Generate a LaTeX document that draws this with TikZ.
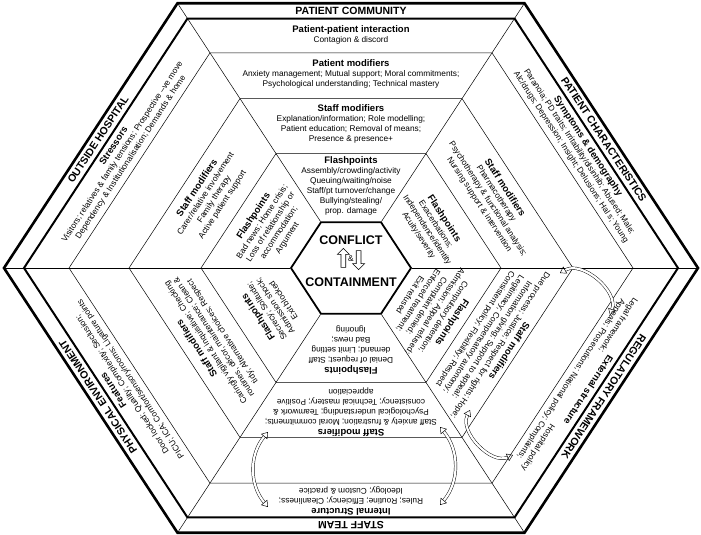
\documentclass[tikz,border=0pt]{standalone}
\usepackage{fontspec}
\setmainfont{Liberation Sans}
\usetikzlibrary{arrows.meta,shapes.arrows,positioning}
\tikzset{
mytxt/.style={align=center, inner sep=0pt, font=\fontsize{8.3}{10}\selectfont},
mytitle/.style={inner sep=0pt, font=\fontsize{10.5}{12}\selectfont\bfseries},
mybig/.style={inner sep=0pt, font=\fontsize{12.5}{14}\selectfont\bfseries},
mycurl/.style={double, double distance=2.2pt, line width=0.45pt,
    {Triangle[open,length=6pt,width=8pt]}-{Triangle[open,length=6pt,width=8pt]}},
myarr/.style={single arrow, draw, line width=0.6pt, minimum height=19pt,
    minimum width=12pt, single arrow head extend=2pt, inner sep=1pt}
}
\newcommand{\hd}[1]{{\fontsize{9.5}{11}\selectfont\bfseries #1}}
\begin{document}
\begin{tikzpicture}[x=1pt,y=1pt]
\useasboundingbox (-351,-267) rectangle (350,268);
\begin{scope}[yscale=0.881]
% rings and spokes
\foreach \r/\w in {150/0.5pt,222/0.5pt,282/0.5pt,327/2pt,347/2.6pt,60/1.8pt}
  \draw[line width=\w, line join=miter] (0:\r) -- (60:\r) -- (120:\r) -- (180:\r) -- (240:\r) -- (300:\r) -- cycle;
\foreach \a in {0,60,...,300}
  \draw[line width=0.5pt] (\a:61) -- (\a:346);
% band centres of each sector
\foreach \d/\n in {90/T,30/UR,-30/LR,-90/B,-150/LL,150/UL}{
  \coordinate (ti\n) at (\d:292);
  \coordinate (ou\n) at (\d:264);
  \coordinate (pm\n) at (\d:220);
  \coordinate (sm\n) at (\d:163);
  \coordinate (fl\n) at (\d:93);
}
\end{scope}
% top: patient community
\node[mytitle] (pc) at (tiT) {PATIENT COMMUNITY};
\node[mytxt] (ppi) at (ouT) {\hd{Patient-patient interaction}\\Contagion \& discord};
\node[mytxt] (pmod) at (pmT) {\hd{Patient modifiers}\\Anxiety management; Mutual support; Moral commitments;\\Psychological understanding; Technical mastery};
\node[mytxt] (smodT) at (smT) {\hd{Staff modifiers}\\Explanation/information; Role modelling;\\Patient education; Removal of means;\\Presence \& presence+};
\node[mytxt] (flT) at (flT) {\hd{Flashpoints}\\Assembly/crowding/activity\\Queuing/waiting/noise\\Staff/pt turnover/change\\Bullying/stealing/\\prop. damage};
% upper right: patient characteristics
\node[mytitle, rotate=-56.8] (pchar) at (tiUR) {PATIENT CHARACTERISTICS};
\node[mytxt, rotate=-56.8] (sympt) at (ouUR) {\hd{Symptoms \& demography}\\Paranoia; PD traits; Irritability/disinhib; Abused; Male;\\Alc/drugs; Depression; Insight; Delusions; Hal s; Young};
\node[mytxt, rotate=-56.8] (smodUR) at (smUR) {\hd{Staff modifiers}\\Pharmacotherapy\\Psychotherapy \& functional analysis;\\Nursing support \& intervention};
\node[mytxt, rotate=-56.8] (flUR) at (flUR) {\hd{Flashpoints}\\Exacerbations;\\Independence/identity\\Acuity/severity};
% lower right: regulatory framework
\node[mytitle, rotate=-123.2] (regf) at (tiLR) {REGULATORY FRAMEWORK};
\node[mytxt, rotate=-123.2] (ext) at (ouLR) {\hd{External structure}\\Legal framework;\hspace{88pt}Hospital policy\\Appeals; Prosecutions; National policy; Complaints;};
\node[mytxt, rotate=-123.2] (smodLR) at (smLR) {\hd{Staff modifiers}\\Due process; Justice; Respect for rights; Hope;\\Information giving; Support to appeal;\\Legitimacy; Compensatory autonomy;\\Consistent policy; Flexibility; Respect};
\node[mytxt, rotate=-123.2] (flLR) at (flLR) {\hd{Flashpoints}\\Compulsory detention;\\Admission; Appeal refused;\\Complaint denied;\\Enforced treatment;\\Exit refused};
% bottom: staff team
\node[mytitle, rotate=180] (st) at (tiB) {STAFF TEAM};
\node[mytxt, rotate=180] (intl) at (ouB) {\hd{Internal Structure}\\Rules; Routine; Efficiency; Cleanliness;\\Ideology; Custom \& practice};
\node[mytxt, rotate=180] (smodB) at (smB) {\hd{Staff modifiers}\\Staff anxiety \& frustration; Moral commitments;\\Psychological understanding; Teamwork \&\\consistency; Technical mastery; Positive\\appreciation};
\node[mytxt, rotate=180] (flB) at (flB) {\hd{Flashpoints}\\Denial of request; Staff\\demand; Limit setting\\Bad news;\\Ignoring};
% lower left: physical environment
\node[mytitle, rotate=123.2] (phys) at (tiLL) {PHYSICAL ENVIRONMENT};
\node[mytxt, rotate=123.2] (feat) at (ouLL) {\hd{Features}\\Door locked; Quality; Complexity; Seclusion;\\PICU; ICA; Comfort/sensory/rooms; Ligature points};
\node[mytxt, rotate=123.2] (smodLL) at (smLL) {\hd{Staff modifiers}\\Caringly vigilant \& inquisitive; Checking\\routines, d\'ecor, maintenance; Clean \&\\tidy; Alternative choices; Respect};
\node[mytxt, rotate=123.2] (flLL) at (flLL) {\hd{Flashpoints}\\Secrecy; Solitude;\\Admission shock;\\Exit blocked};
% upper left: outside hospital
\node[mytitle, rotate=56.8] (outh) at (tiUL) {OUTSIDE HOSPITAL};
\node[mytxt, rotate=56.8] (stress) at (ouUL) {\hd{Stressors}\\Visitors; relatives \& family tensions; Prospective --ve move\\Dependency \& Institutionalisation; Demands \& home};
\node[mytxt, rotate=56.8] (smodUL) at (smUL) {\hd{Staff modifiers}\\Carer/relative involvement\\Family therapy\\Active patient support};
\node[mytxt, rotate=56.8] (flUL) at (flUL) {\hd{Flashpoints}\\Bad news; Home crisis;\\Loss of relationship or\\accommodation;\\Argument};
% centre
\node[mybig] (conf) at (0,28) {CONFLICT};
\node[mybig] (cont) at (0,-14) {CONTAINMENT};
\node[mytxt] (amp) at (0,9) {\&};
\node[myarr, shape border rotate=90, left=2pt of amp] (upa) {};
\node[myarr, shape border rotate=270, right=2pt of amp] (dna) {};
% feedback arrows
\coordinate (b1) at (-83,-164);
\coordinate (b2) at (-83,-239);
\coordinate (b3) at (89,-159);
\coordinate (b4) at (89,-237);
\coordinate (r1) at (209,-5);
\coordinate (r2) at (259,-47);
\coordinate (r3) at (119,-142);
\coordinate (r4) at (162,-187);
\draw[mycurl] (b1) to[bend right=40] (b2);
\draw[mycurl] (b3) to[bend left=40] (b4);
\draw[mycurl] (r1) to[bend left=70] (r2);
\draw[mycurl] (r3) to[bend right=70] (r4);
\end{tikzpicture}
\end{document}
